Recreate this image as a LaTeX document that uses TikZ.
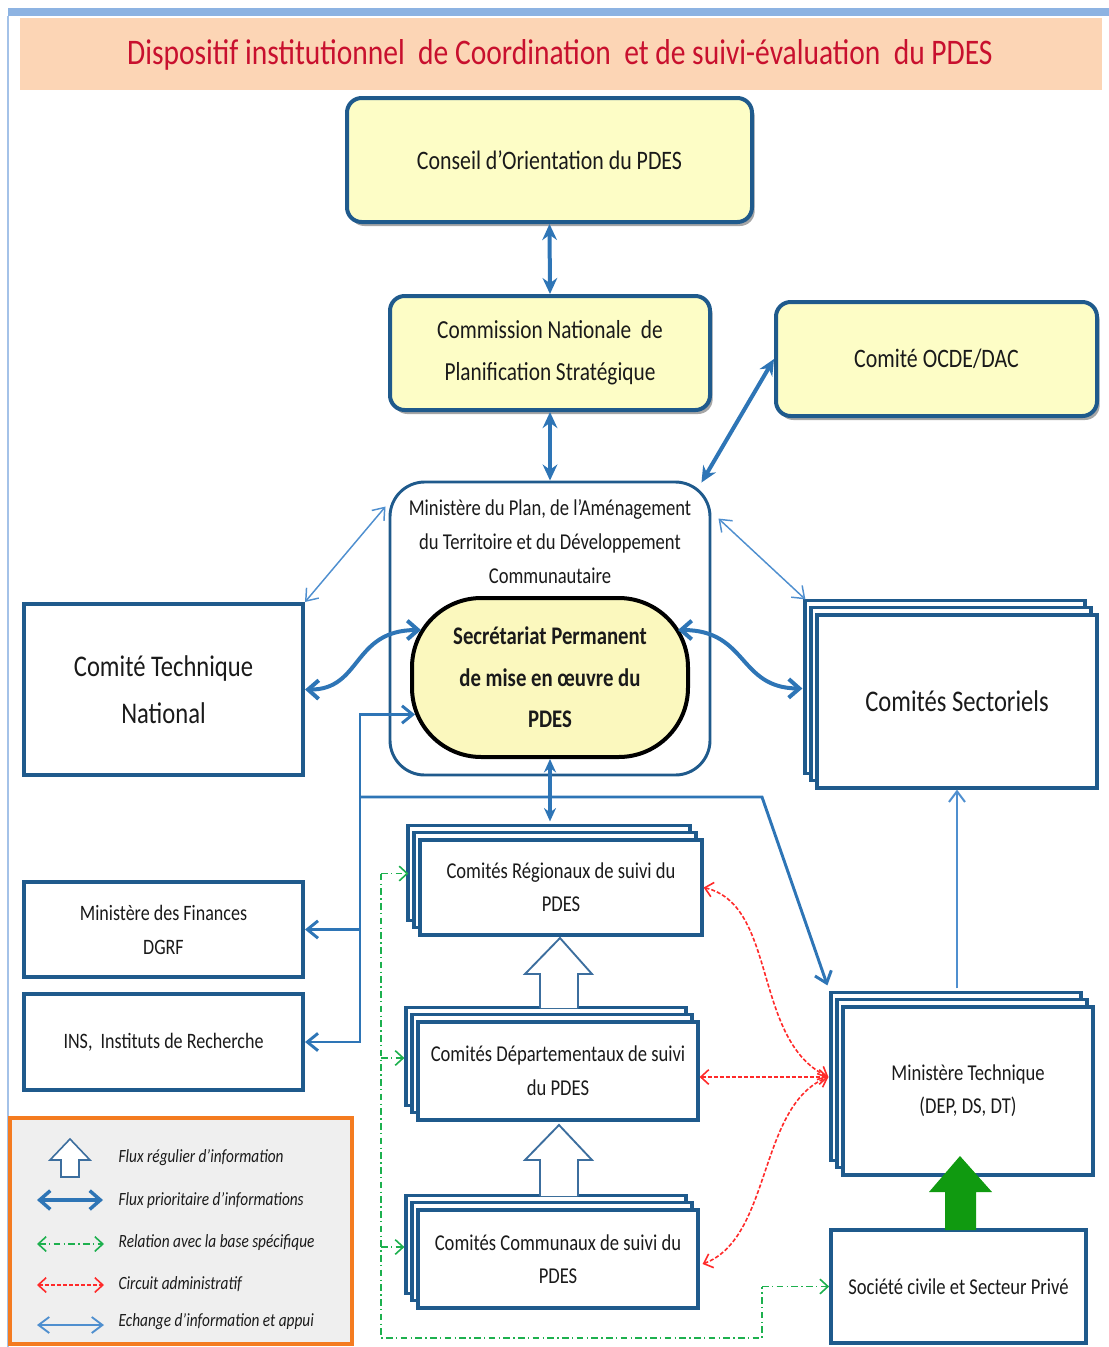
\documentclass[tikz,border=0pt]{standalone}
\usepackage{fontspec}
\setmainfont{Carlito}[FakeStretch=0.82]
\usetikzlibrary{arrows.meta,fit,shadows,calc}
\definecolor{boxblue}{HTML}{1F5A8C}
\definecolor{arrblue}{HTML}{2E75B6}
\definecolor{thinblue}{HTML}{4F8FCF}
\definecolor{paleyellow}{HTML}{FDFDC6}
\definecolor{secyellow}{HTML}{FBF8BE}
\definecolor{peach}{HTML}{FCD5B5}
\definecolor{titlered}{HTML}{C8102E}
\definecolor{legorange}{HTML}{F47B20}
\definecolor{leggray}{HTML}{EFEFEF}
\definecolor{redarr}{HTML}{FF2A2A}
\definecolor{greenarr}{HTML}{1DB04E}
\definecolor{greenblock}{HTML}{109A10}
\definecolor{topbar}{HTML}{8DB3E2}
\definecolor{hollowblue}{HTML}{3C6E9E}
\definecolor{txt}{HTML}{1A1A1A}
\tikzset{
  sz/.style 2 args={minimum width=#1*0.75pt, minimum height=#2*0.75pt},
  ybox/.style={draw=boxblue, line width=3pt, fill=paleyellow, rounded corners=11pt,
    inner sep=0pt, align=center, text=txt,
    drop shadow={shadow xshift=2pt, shadow yshift=-3pt, opacity=0.35, fill=black}},
  sqbox/.style={draw=boxblue, line width=3pt, fill=white, inner sep=0pt, align=center, text=txt},
  stackbox/.style={draw=boxblue, line width=2.4pt, fill=white, inner sep=0pt, align=center, text=txt,
    copy shadow={shadow xshift=-9pt, shadow yshift=11pt, draw=boxblue, fill=white, line width=2.4pt},
    copy shadow={shadow xshift=-4.5pt, shadow yshift=5.5pt, draw=boxblue, fill=white, line width=2.4pt}},
  bigarr/.style={arrblue, line width=3pt, {Stealth[length=12pt,width=11pt]}-{Stealth[length=12pt,width=11pt]}},
  midarr/.style={arrblue, line width=2.3pt, {Stealth[length=10pt,width=9pt]}-{Stealth[length=10pt,width=9pt]}},
  curvarr/.style={arrblue, line width=3pt, {Straight Barb[length=8pt,width=14pt]}-{Straight Barb[length=8pt,width=14pt]}},
  busline/.style={arrblue, line width=2.2pt},
  busarr/.style={busline, -{Straight Barb[length=8pt,width=13pt]}},
  thinarr/.style={thinblue, line width=1.1pt, {Straight Barb[length=8pt,width=12pt]}-{Straight Barb[length=8pt,width=12pt]}},
  uparr/.style={thinblue, line width=1.5pt, -{Straight Barb[length=8pt,width=12pt]}},
  reddash/.style={redarr, line width=1.2pt, dash pattern=on 3pt off 1.5pt, {Straight Barb[length=6pt,width=11pt]}-{Straight Barb[length=6pt,width=11pt]}},
  greendd/.style={greenarr, line width=1.2pt, dash pattern=on 5pt off 2.5pt on 1pt off 2.5pt},
  greenend/.style={greendd, -{Straight Barb[length=6pt,width=11pt]}},
  hollow/.style={draw=hollowblue, line width=1.4pt, fill=white},
  legtxt/.style={anchor=west, text=txt, font=\itshape\fontsize{14}{16}\selectfont},
}
\begin{document}
\begin{tikzpicture}[x=0.75pt,y=-0.75pt]
\useasboundingbox (0,0) rectangle (1109,1347);
% frame and title
\fill[topbar] (8,8) rectangle (1109,16);
\draw[topbar!80, line width=1.5pt] (8,16) -- (8,1347);
\node[fill=peach, inner sep=0pt, fit={(20,18)(1102,90)}] (band) {};
\node[text=titlered, font=\fontsize{27}{32}\selectfont] (title) at (560,55)
  {Dispositif institutionnel\ \ de Coordination\ \ et de suivi-évaluation\ \ du PDES};

% top boxes
\node[ybox, sz={405}{124}, font=\fontsize{20}{30}\selectfont] (conseil) at (549.5,160) {Conseil d’Orientation du PDES};
\node[ybox, sz={320}{114}, font=\fontsize{19.5}{31.5}\selectfont] (commission) at (550,353) {Commission Nationale\ \ de\\Planification Stratégique};
\node[ybox, sz={321}{114}, font=\fontsize{20}{30}\selectfont] (ocde) at (936.5,359) {Comité OCDE/DAC};

% ministere du plan
\node[draw=boxblue, line width=2.2pt, fill=white, rounded corners=26pt, inner sep=0pt, fit={(390,482)(710,775)}] (mplan) {};
\node[align=center, text=txt, font=\fontsize{17}{25.5}\selectfont] (mplantxt) at (550,542)
  {Ministère du Plan, de l’Aménagement\\du Territoire et du Développement\\Communautaire};
\node[draw=black, line width=3pt, fill=secyellow, rounded corners=52pt, inner sep=0pt, align=center, text=txt,
  sz={276}{159}, font=\bfseries\fontsize{19}{31}\selectfont] (sec) at (550,677.5)
  {Secrétariat Permanent\\de mise en œuvre du\\PDES};

% left boxes
\node[sqbox, sz={279}{171}, font=\fontsize{22.5}{35}\selectfont] (ctn) at (163.5,689.5) {Comité Technique\\National};
\node[sqbox, sz={279}{95}, font=\fontsize{16.5}{25.5}\selectfont] (mf) at (163.5,929.5) {Ministère des Finances\\DGRF};
\node[sqbox, sz={279}{96}, font=\fontsize{16.5}{25}\selectfont] (ins) at (163.5,1042) {INS,\ \ Instituts de Recherche};

% stacked boxes
\node[stackbox, sz={280}{173}, font=\fontsize{22.5}{30}\selectfont] (sect) at (957,701.5) {Comités Sectoriels};
\node[stackbox, sz={282}{95}, font=\fontsize{17}{25}\selectfont] (reg) at (561,887.5) {Comités Régionaux de suivi du\\PDES};
\node[stackbox, sz={280}{98}, font=\fontsize{17}{25.5}\selectfont] (dep) at (558,1071) {Comités Départementaux de suivi\\du PDES};
\node[stackbox, sz={280}{98}, font=\fontsize{17}{25}\selectfont] (com) at (558,1259) {Comités Communaux de suivi du\\PDES};
\node[stackbox, sz={250}{168}, font=\fontsize{17}{25}\selectfont] (mt) at (968,1091) {Ministère Technique\\(DEP, DS, DT)};
\node[sqbox, line width=2.8pt, sz={255}{113}, font=\fontsize{17}{25}\selectfont] (soc) at (958.5,1286.5) {Société civile et Secteur Privé};

% thick vertical arrows
\draw[bigarr] (conseil.south) -- (commission.north);
\draw[bigarr] (commission.south) -- (mplan.north);
\draw[bigarr] (ocde.west) -- ($(mplan.north east)+(-10,2)$);
\coordinate (regtop) at ($(reg.north)+(-11,-17)$);
\draw[midarr] (sec.south) -- (regtop);

% thin exchange arrows
\draw[thinarr] (ctn.north east) -- ($(mplan.north west)+(-3,26)$);
\draw[thinarr] ($(mplan.north east)+(7,38)$) -- ($(sect.north west)+(-10,-14)$);
\draw[uparr] ($(mt.north)+(-11,-17)$) -- (sect.south);

% curved thick arrows
\draw[curvarr] (ctn.east) .. controls (362,690) and (352,630) .. (421,630);
\draw[curvarr] (678,630) .. controls (748,630) and (738,688) .. ($(sect.west)+(-13,-13)$);

% bus
\coordinate (b0) at (360,797);
\coordinate (b1) at (762,797);
\draw[busarr] (b0) |- ($(sec.west)+(5,37)$);
\draw[busarr] (b0) |- (ins.east);
\draw[busarr] (b0 |- mf.east) -- (mf.east);
\draw[busarr] (b0) -- (b1) -- ($(mt.north west)+(-14,-20)$);

% red administrative circuit
\coordinate (mtw) at ($(mt.west)+(-13,-14)$);
\draw[reddash] (reg.east) .. controls (778,905) and (752,1040) .. (mtw);
\draw[reddash] (dep.east |- mtw) -- (mtw);
\draw[reddash] ($(com.east)+(3,5)$) .. controls (772,1238) and (758,1105) .. (mtw);

% green dash-dot
\coordinate (gR) at ($(reg.west)+(-10,-14)$);
\coordinate (gD) at ($(dep.west)+(-12,-13)$);
\coordinate (gC) at ($(com.west)+(-12,-12)$);
\coordinate (gx) at (381,1338);
\coordinate (gy) at (762,1338);
\draw[greendd] (gx |- gR) -- (gx) -- (gy) -- (gy |- soc.west);
\draw[greenend] (gy |- soc.west) -- (soc.west);
\draw[greenend] (gx |- gR) -- (gR);
\draw[greenend] (gx |- gD) -- (gD);
\draw[greenend] (gx |- gC) -- (gC);

% hollow block arrows
\draw[hollow] (540,1008) -- (540,974) -- (525,974) -- (560,938) -- (592,974) -- (578,974) -- (578,1008);
\draw[hollow] (540,1196) -- (540,1160) -- (525,1160) -- (559,1125) -- (592,1160) -- (578,1160) -- (578,1196);

% green block arrow
\fill[greenblock] (945,1230) -- (945,1192) -- (929,1192) -- (960,1156) -- (992,1192) -- (976,1192) -- (976,1230) -- cycle;

% legend
\node[draw=legorange, line width=2.5pt, fill=leggray, inner sep=0pt, fit={(10,1118)(352,1344)}] (leg) {};
\draw[hollow, line width=1.2pt] (61,1177) -- (61,1160) -- (50,1160) -- (70,1139) -- (90,1160) -- (79,1160) -- (79,1177) -- cycle;
\coordinate (la) at (37,1200); \coordinate (lb) at (103,1200);
\coordinate (lc) at (37,1244); \coordinate (ld) at (104,1244);
\coordinate (le) at (37,1285); \coordinate (lf) at (104,1285);
\coordinate (lg) at (37,1325); \coordinate (lh) at (104,1325);
\draw[curvarr, line width=2.6pt] (la) -- (lb);
\draw[greendd, {Straight Barb[length=6pt,width=11pt]}-{Straight Barb[length=6pt,width=11pt]}] (lc) -- (ld);
\draw[reddash] (le) -- (lf);
\draw[thinarr, line width=1.4pt] (lg) -- (lh);
\node[legtxt] (l1) at (114,1158) {Flux régulier d’information};
\node[legtxt] (l2) at (114,1201) {Flux prioritaire d’informations};
\node[legtxt] (l3) at (114,1243) {Relation avec la base spécifique};
\node[legtxt] (l4) at (114,1284) {Circuit administratif};
\node[legtxt] (l5) at (114,1322) {Echange d’information et appui};
\end{tikzpicture}
\end{document}
